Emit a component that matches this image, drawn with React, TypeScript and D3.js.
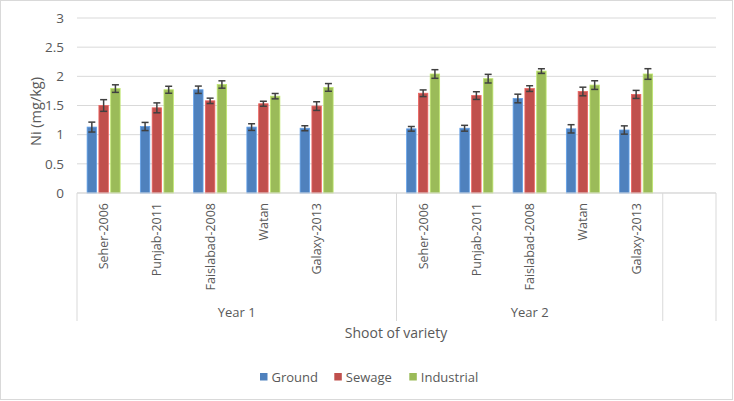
import React from "react";
import * as d3 from "d3";

const varieties = ["Seher-2006", "Punjab-2011", "Faislabad-2008", "Watan", "Galaxy-2013"];
const years = ["Year 1", "Year 2"];
const seriesNames = ["Ground", "Sewage", "Industrial"];
const seriesColors = ["#4F81BD", "#C0504D", "#9BBB59"];
const yTicks = [0, 0.5, 1, 1.5, 2, 2.5, 3];

// values per year, per variety
const ground1 = [1.13, 1.14, 1.77, 1.13, 1.11];
const sewage1 = [1.50, 1.46, 1.58, 1.53, 1.49];
const industrial1 = [1.79, 1.77, 1.86, 1.66, 1.81];
const ground2 = [1.10, 1.11, 1.62, 1.10, 1.08];
const sewage2 = [1.71, 1.67, 1.79, 1.74, 1.69];
const industrial2 = [2.04, 1.96, 2.09, 1.85, 2.04];

const groundErr1 = [0.085, 0.07, 0.063, 0.057, 0.043];
const sewageErr1 = [0.1, 0.085, 0.046, 0.043, 0.074];
const industrialErr1 = [0.065, 0.06, 0.063, 0.046, 0.066];
const groundErr2 = [0.04, 0.05, 0.074, 0.071, 0.071];
const sewageErr2 = [0.057, 0.066, 0.049, 0.074, 0.069];
const industrialErr2 = [0.074, 0.074, 0.04, 0.074, 0.091];

const W = 734;
const H = 401;
const FONT = "Open Sans, Noto Sans, sans-serif";
const TXT = "#595959";
const GRID = "#D9D9D9";

export default function App() {
  const slots: { key: string; label: string; year: number; vi: number }[] = [];
  varieties.forEach((v, i) => slots.push({ key: `y1-${i}`, label: v, year: 0, vi: i }));
  slots.push({ key: "y1-blank", label: "", year: 0, vi: -1 });
  varieties.forEach((v, i) => slots.push({ key: `y2-${i}`, label: v, year: 1, vi: i }));
  slots.push({ key: "y3-blank", label: "", year: 2, vi: -1 });

  const left = 77;
  const right = 716;
  const top = 18;
  const bottom = 193;

  const x0 = d3
    .scaleBand<string>()
    .domain(slots.map((s) => s.key))
    .range([left, right])
    .paddingInner(0.38)
    .paddingOuter(0.19);
  const x1 = d3.scaleBand<string>().domain(seriesNames).range([0, x0.bandwidth()]).paddingInner(0.2);
  const y = d3.scaleLinear().domain([0, 3]).range([bottom, top]);

  const vals = [
    [ground1, sewage1, industrial1],
    [ground2, sewage2, industrial2],
  ];
  const errs = [
    [groundErr1, sewageErr1, industrialErr1],
    [groundErr2, sewageErr2, industrialErr2],
  ];

  const step = x0.step();
  const slotStart = (k: string) => (x0(k) as number) - (step - x0.bandwidth()) / 2;
  const sepXs = [left, slotStart("y2-0"), slotStart("y3-blank"), right];
  const yearCenters = [
    (left + slotStart("y2-0")) / 2,
    (slotStart("y2-0") + slotStart("y3-blank")) / 2,
  ];

  const legendItems = [
    { name: "Ground", x: 260 },
    { name: "Sewage", x: 334.3 },
    { name: "Industrial", x: 409.3 },
  ];

  return (
    <svg
      width={W}
      height={H}
      style={{ position: "absolute", left: 0, top: 0, background: "#fff" }}
      fontFamily={FONT}
    >
      <rect x={0.5} y={0.5} width={W - 2} height={H - 2} fill="#fff" stroke={GRID} strokeWidth={1} />
      {yTicks.map((t) => (
        <g key={t}>
          <line x1={left} x2={right} y1={y(t)} y2={y(t)} stroke={GRID} strokeWidth={1} />
          <text x={64} y={y(t)} dy="0.35em" textAnchor="end" fontSize={13.5} fill={TXT}>
            {t}
          </text>
        </g>
      ))}
      <text
        transform={`translate(36,${(top + bottom) / 2 + 6}) rotate(-90)`}
        textAnchor="middle"
        dy="0.35em"
        fontSize={14.5}
        fill={TXT}
      >
        Ni (mg/kg)
      </text>
      {sepXs.map((sx, i) => (
        <line key={i} x1={sx} x2={sx} y1={bottom} y2={321} stroke={GRID} strokeWidth={1} />
      ))}
      {slots
        .filter((s) => s.vi >= 0)
        .map((s) =>
          seriesNames.map((name, si) => {
            const v = vals[s.year][si][s.vi];
            const e = errs[s.year][si][s.vi];
            const bx = (x0(s.key) as number) + (x1(name) as number);
            const bw = x1.bandwidth();
            const cx = bx + bw / 2;
            return (
              <g key={s.key + name}>
                <rect
                  x={bx}
                  y={y(v)}
                  width={bw}
                  height={bottom - y(v)}
                  fill={seriesColors[si]}
                  stroke={d3.color(seriesColors[si])!.brighter(0.6).formatHex()}
                  strokeWidth={0.8}
                />
                <g stroke="#404040" strokeWidth={1.5}>
                  <line x1={cx} x2={cx} y1={y(v + e)} y2={y(v - e)} />
                  <line x1={cx - 3.5} x2={cx + 3.5} y1={y(v + e)} y2={y(v + e)} />
                  <line x1={cx - 3.5} x2={cx + 3.5} y1={y(v - e)} y2={y(v - e)} />
                </g>
              </g>
            );
          })
        )}
      <line x1={left} x2={right} y1={bottom} y2={bottom} stroke={GRID} strokeWidth={1} />
      {slots
        .filter((s) => s.vi >= 0)
        .map((s) => {
          const cx = (x0(s.key) as number) + x0.bandwidth() / 2;
          return (
            <text
              key={"l" + s.key}
              transform={`translate(${cx + 4.5},203) rotate(-90)`}
              textAnchor="end"
              fontSize={12.5}
              fill={TXT}
            >
              {s.label}
            </text>
          );
        })}
      {years.map((yr, i) => (
        <text key={yr} x={yearCenters[i]} y={312} dy="0.35em" textAnchor="middle" fontSize={13} fill={TXT}>
          {yr}
        </text>
      ))}
      <text x={396} y={333.5} dy="0.35em" textAnchor="middle" fontSize={14} fill={TXT}>
        Shoot of variety
      </text>
      {legendItems.map((it, i) => (
        <g key={it.name}>
          <rect x={it.x} y={373} width={7.5} height={7.5} fill={seriesColors[i]} />
          <text x={it.x + 11.5} y={377} dy="0.35em" fontSize={13} fill={TXT}>
            {it.name}
          </text>
        </g>
      ))}
    </svg>
  );
}
